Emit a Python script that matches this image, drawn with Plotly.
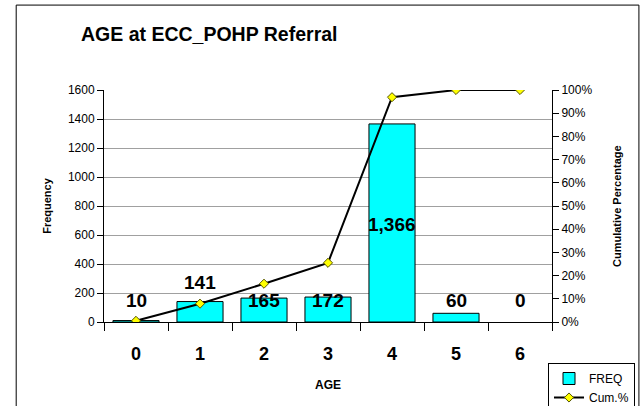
import plotly.graph_objects as go

# data
ages = [0, 1, 2, 3, 4, 5, 6]
freq = [10, 141, 165, 172, 1366, 60, 0]
cum_pct = [0.5, 7.9, 16.5, 25.5, 96.9, 100, 100]
freq_labels = ["10", "141", "165", "172", "1,366", "60", "0"]
label_y = [150, 275, 150, 150, 670, 150, 150]

FONT = "Arial, Liberation Sans, sans-serif"

fig = go.Figure()
fig.add_trace(go.Bar(x=ages, y=freq, name="FREQ",
                     marker=dict(color="#00FFFF",
                                 line=dict(color="black", width=[1, 1, 1, 1, 1, 1, 0])),
                     width=0.72))
fig.add_trace(go.Scatter(x=ages, y=cum_pct, name="Cum.%", yaxis="y2", mode="lines+markers",
                         line=dict(color="black", width=2),
                         marker=dict(symbol="diamond", size=7, color="#FFFF00",
                                     line=dict(color="#555500", width=1))))

for a, t, yy in zip(ages, freq_labels, label_y):
    fig.add_annotation(x=a, y=yy, text="<b>%s</b>" % t, showarrow=False,
                       font=dict(size=19, color="black", family=FONT))

# right axis title as annotation
fig.add_annotation(xref="paper", yref="paper", x=(617 - 104) / 448, y=0.5,
                   xanchor="center", yanchor="middle",
                   text="<b>Cumulative Percentage</b>", textangle=-90, showarrow=False,
                   font=dict(size=11, color="black", family=FONT))

# outer frame
fig.add_shape(type="rect", xref="paper", yref="paper", x0=-0.196, x1=1.194, y0=-0.4, y1=1.366,
              line=dict(color="black", width=1))

fig.update_layout(
    width=641, height=406,
    margin=dict(l=104, r=89, t=90, b=84, autoexpand=False),
    paper_bgcolor="white", plot_bgcolor="white",
    font=dict(family=FONT, size=12, color="black"),
    title=dict(text="<b>AGE at ECC_POHP Referral</b>", x=81/641, xanchor="left",
               y=1-34/406, yanchor="middle", font=dict(size=19.5)),
    bargap=0.28,
    showlegend=True,
    legend=dict(xref="container", yref="container", x=548/641, y=1-363/406,
                xanchor="left", yanchor="top",
                bordercolor="black", borderwidth=1, bgcolor="white",
                font=dict(size=12), tracegroupgap=0, itemwidth=30),
    xaxis=dict(range=[-0.5, 6.5], tickvals=ages, ticktext=["<b>%d</b>" % a for a in ages],
               tickfont=dict(size=18), ticks="", ticklabelstandoff=15,
               showgrid=False, zeroline=False,
               showline=True, linecolor="black", linewidth=1,
               minor=dict(tick0=0.5, dtick=1, ticks="outside", ticklen=8, tickcolor="black"),
               title=dict(text="<b>AGE</b>", font=dict(size=12), standoff=18)),
    yaxis=dict(range=[0, 1600], dtick=200, ticks="outside", ticklen=6, tickcolor="black",
               showline=True, linecolor="black", linewidth=1,
               showgrid=True, gridcolor="#A0A0A0", gridwidth=1, zeroline=False,
               title=dict(text="<b>Frequency</b>", font=dict(size=11), standoff=14)),
    yaxis2=dict(range=[0, 100], dtick=10, ticksuffix="%", overlaying="y", side="right",
                ticks="outside", ticklen=6, tickcolor="black",
                showline=True, linecolor="black", linewidth=1, showgrid=False, zeroline=False),
)

fig.write_html("out.html", config={"displayModeBar": False},
               post_script="document.body.style.margin='0';document.body.style.overflow='hidden';")
